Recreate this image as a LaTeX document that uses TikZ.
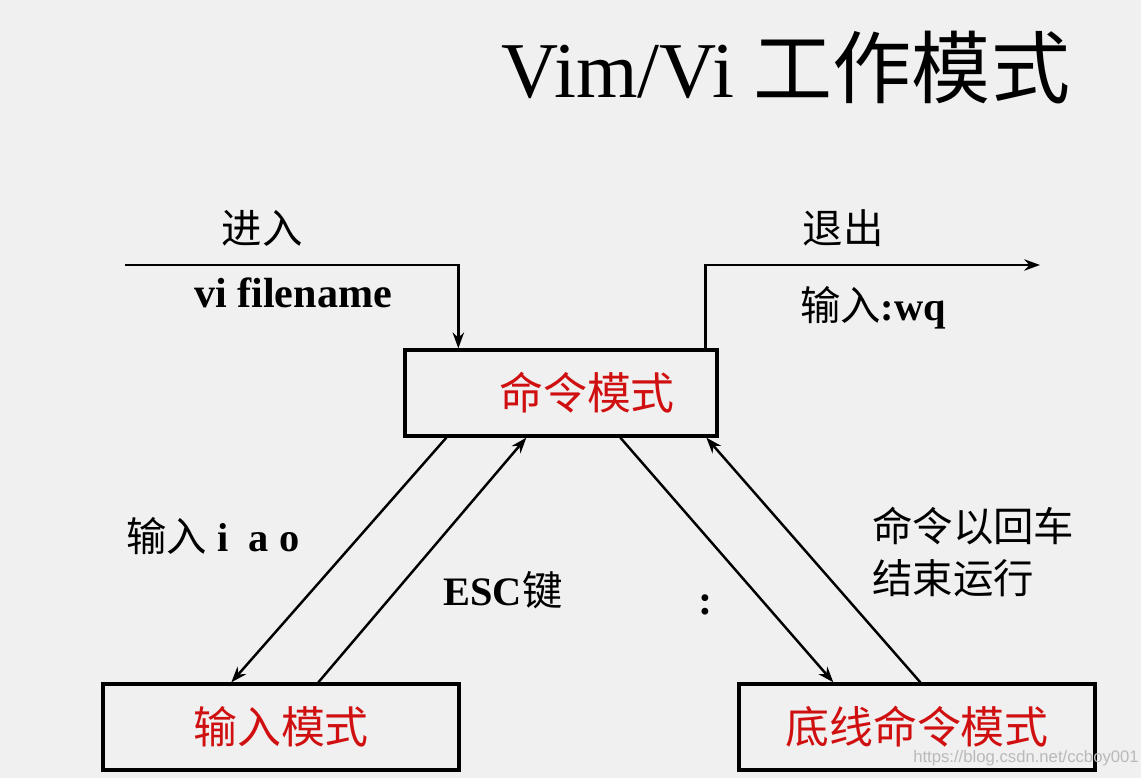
\documentclass[tikz,border=0pt]{standalone}
\usepackage{fontspec}
\setmainfont{Liberation Serif}
\newfontfamily\cjk{Noto Sans CJK SC}
\newfontfamily\wmfont{Liberation Sans}
\usetikzlibrary{calc,arrows.meta}
\definecolor{bgGray}{RGB}{240,240,240}
\definecolor{modeRed}{RGB}{208,16,16}

\begin{document}
\begin{tikzpicture}[x=0.02cm, y=-0.02cm,
    >={Stealth[length=9pt,width=6.5pt]},
    flow/.style={->, line width=1.4pt},
    modebox/.style={draw, line width=1.9pt, inner sep=0pt},
    modetext/.style={text=modeRed, font=\cjk\fontsize{25}{30}\selectfont},
    note/.style={font=\fontsize{23}{28}\selectfont},
    ]
        % --- 1. Parameters ---
        \def\boxH{86}
        \def\cmdW{312}
        \def\modeW{356}

        % Page
        \useasboundingbox (0,0) rectangle (1141,778);
        \fill[bgGray] (0,0) rectangle (1141,778);

        % --- 2. Title ---
        \node[font=\fontsize{45}{50}\selectfont] (title) at (786,68)
            {Vim/Vi {\cjk 工作模式}};

        % --- 3. Mode boxes ---
        \node[modebox, minimum width=\cmdW*0.02cm, minimum height=\boxH*0.02cm] (cmd) at (561,393) {};
        \node[modetext] (cmdlabel) at (587,393) {命令模式};

        \node[modebox, minimum width=\modeW*0.02cm, minimum height=\boxH*0.02cm, modetext] (ins) at (281,727) {输入模式};
        \node[modebox, minimum width=\modeW*0.02cm, minimum height=\boxH*0.02cm, modetext] (last) at (917,727) {底线命令模式};

        % --- 4. Enter and exit ---
        \coordinate (enterstart) at (125,265);
        \coordinate (cmdin) at ($(cmd.north west)+(55,0)$);
        \draw[flow] (enterstart) -| (cmdin);
        \node[note, font=\cjk\fontsize{23}{28}\selectfont] (enterlabel) at (262,228) {进入};
        \node[note, font=\bfseries\fontsize{24}{28}\selectfont] (entercmd) at (293,293) {vi filename};

        \coordinate (cmdout) at ($(cmd.north west)+(302,0)$);
        \coordinate (exitend) at (1040,265);
        \draw[flow] (cmdout) |- (exitend);
        \node[note, font=\cjk\fontsize{23}{28}\selectfont] (exitlabel) at (843,228) {退出};
        \node[note] (exitcmd) at (873,308) {{\cjk 输入}\textbf{:wq}};

        % --- 5. Switching between modes ---
        \draw[flow] ($(cmd.south west)+(43,0)$) -- ($(ins.north west)+(130,0)$);
        \draw[flow] ($(ins.north west)+(217,0)$) -- ($(cmd.south west)+(123,0)$);
        \draw[flow] ($(cmd.south west)+(217,0)$) -- ($(last.north west)+(96,0)$);
        \draw[flow] ($(last.north west)+(183,0)$) -- ($(cmd.south west)+(303,0)$);

        % --- 6. Annotations ---
        \node[note] (inskeys) at (213,536) {{\cjk 输入}\textbf{\ i\ \ a\ o}};
        \node[note] (esckey) at (503,590) {\textbf{ESC}{\cjk 键}};
        \node[note, font=\bfseries\fontsize{24}{28}\selectfont] (colonkey) at (706,605) {:};
        \node[note, font=\cjk\fontsize{23}{29.5}\selectfont, align=left, anchor=west] (runnote) at (866,552)
            {命令以回车\\结束运行};

        % Watermark
        \node[text=gray!55, font=\wmfont\fontsize{9.5}{11}\selectfont] (mark) at (1026,758)
            {https://blog.csdn.net/ccboy001};
\end{tikzpicture}
\end{document}
